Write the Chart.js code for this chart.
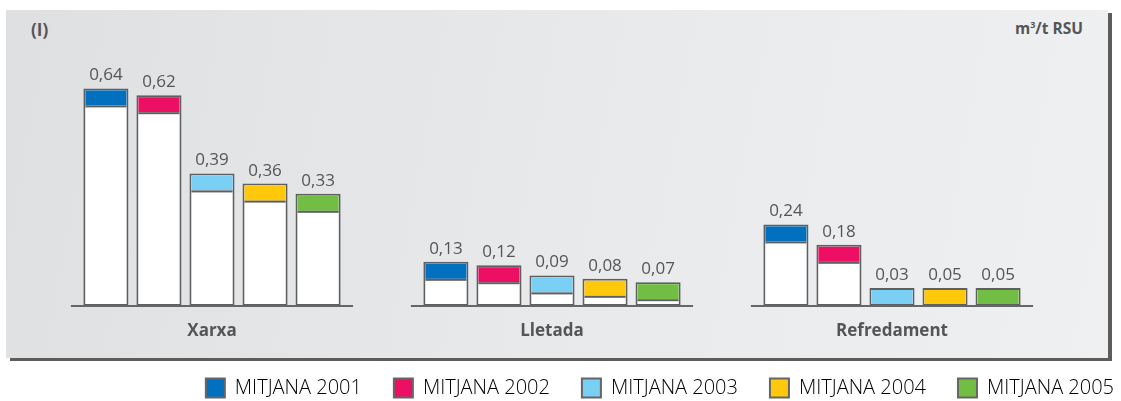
<!DOCTYPE html>
<html>
<head>
<meta charset="utf-8">
<script src="https://cdn.jsdelivr.net/npm/chart.js@4"></script>
<style>
  body { margin: 0; background: #fff; overflow: hidden; }
  #wrap { position: relative; width: 1121px; height: 401px; overflow: hidden; }
  .panel {
    position: absolute; left: 6px; top: 10px; width: 1102px; height: 348px;
    background: linear-gradient(100deg, #dfe0e2 0%, #e8e9eb 50%, #eff0f1 100%);
    box-shadow: 4px 3px 0 0 #5c5c5c;
  }
  .tag, .unit {
    position: absolute; font-family: 'Open Sans', sans-serif; font-weight: 700; color: #555;
  }
  .tag { left: 31px; top: 18px; font-size: 17px; }
  .unit { right: 38px; top: 17px; font-size: 15.5px; }
  .unit sup { font-size: 9px; }
  #chart { position: absolute; left: 0; top: 0; }
</style>
</head>
<body>
<div id="wrap">
  <div class="panel"></div>
  <div class="tag">(I)</div>
  <div class="unit">m<sup>3</sup>/t RSU</div>
  <canvas id="chart" width="1146" height="401"></canvas>
</div>
<script>
const categories = ['Xarxa', 'Lletada', 'Refredament'];
const seriesNames = ['MITJANA 2001', 'MITJANA 2002', 'MITJANA 2003', 'MITJANA 2004', 'MITJANA 2005'];
const values2001 = [0.64, 0.13, 0.24];
const values2002 = [0.62, 0.12, 0.18];
const values2003 = [0.39, 0.09, 0.03];
const values2004 = [0.36, 0.08, 0.05];
const values2005 = [0.33, 0.07, 0.05];
const seriesColors = ['#0070bf', '#ec0f64', '#7ad0f4', '#ffc80b', '#72be45'];

const allValues = [values2001, values2002, values2003, values2004, values2005];
const EDGE = '#5f5f5f';
const TEXT = '#555';
const CAP = 17;

function fmt(v) {
  return v.toFixed(2).replace('.', ',');
}

// coloured top band, baseline pieces, value labels
const capsPlugin = {
  id: 'caps',
  afterDatasetsDraw(chart) {
    const ctx = chart.ctx;
    const xs = chart.scales.x;
    const base = chart.scales.y.getPixelForValue(0);
    const catW = xs.width / categories.length;

    ctx.save();
    ctx.strokeStyle = '#666';
    ctx.lineWidth = 2;
    categories.forEach((c, i) => {
      const cx = xs.getPixelForValue(i);
      ctx.beginPath();
      ctx.moveTo(cx - catW * 0.415, base);
      ctx.lineTo(cx + catW * 0.415, base);
      ctx.stroke();
    });

    chart.data.datasets.forEach((ds, di) => {
      const meta = chart.getDatasetMeta(di);
      meta.data.forEach((bar, i) => {
        const p = bar.getProps(['x', 'y', 'base', 'width'], true);
        const left = p.x - p.width / 2;
        const h = p.base - p.y;
        const band = Math.min(CAP, h - 2);
        ctx.fillStyle = seriesColors[di];
        ctx.fillRect(left + 2, p.y + 2, p.width - 4, band - 2);
        if (h > CAP + 3) {
          ctx.fillStyle = EDGE;
          ctx.fillRect(left + 2, p.y + band, p.width - 4, 2);
        }
        ctx.fillStyle = TEXT;
        ctx.font = '17px "Open Sans", sans-serif';
        ctx.textAlign = 'center';
        ctx.textBaseline = 'alphabetic';
        ctx.fillText(fmt(ds.data[i]), p.x, p.y - 8);
      });
    });
    ctx.restore();
  }
};

const datasets = seriesNames.map((name, i) => ({
  label: name,
  data: allValues[i],
  backgroundColor: '#ffffff',
  borderColor: EDGE,
  borderWidth: 2,
  borderSkipped: false,
  minBarLength: 18,
  categoryPercentage: 0.78,
  barPercentage: 0.85
}));

new Chart(document.getElementById('chart'), {
  type: 'bar',
  data: { labels: categories, datasets: datasets },
  plugins: [capsPlugin],
  options: {
    responsive: false,
    animation: false,
    layout: { padding: { top: 34, left: 0, right: 0, bottom: 0 } },
    scales: {
      x: {
        grid: { display: false, drawTicks: false },
        border: { display: false },
        ticks: {
          color: TEXT,
          padding: 15,
          font: { family: 'Open Sans', size: 17, weight: 'bold' }
        },
        afterFit: s => { s.height = 40; }
      },
      y: {
        min: 0,
        max: 0.8,
        grid: { display: false, drawTicks: false },
        border: { display: false },
        ticks: { display: false },
        afterFit: s => { s.width = 42; }
      },
      y2: {
        position: 'right',
        grid: { display: false, drawTicks: false },
        border: { display: false },
        ticks: { display: false },
        afterFit: s => { s.width = 84; }
      }
    },
    plugins: {
      tooltip: { enabled: false },
      legend: {
        position: 'bottom',
        align: 'end',
        maxHeight: 55,
        labels: {
          boxWidth: 19,
          boxHeight: 19,
          padding: 32,
          color: TEXT,
          font: { family: 'Open Sans', size: 20, weight: '300' },
          generateLabels: () => seriesNames.map((n, i) => ({
            text: n,
            fillStyle: seriesColors[i],
            strokeStyle: '#666',
            lineWidth: 2,
            hidden: false,
            datasetIndex: i
          }))
        }
      }
    }
  }
});
</script>
</body>
</html>
